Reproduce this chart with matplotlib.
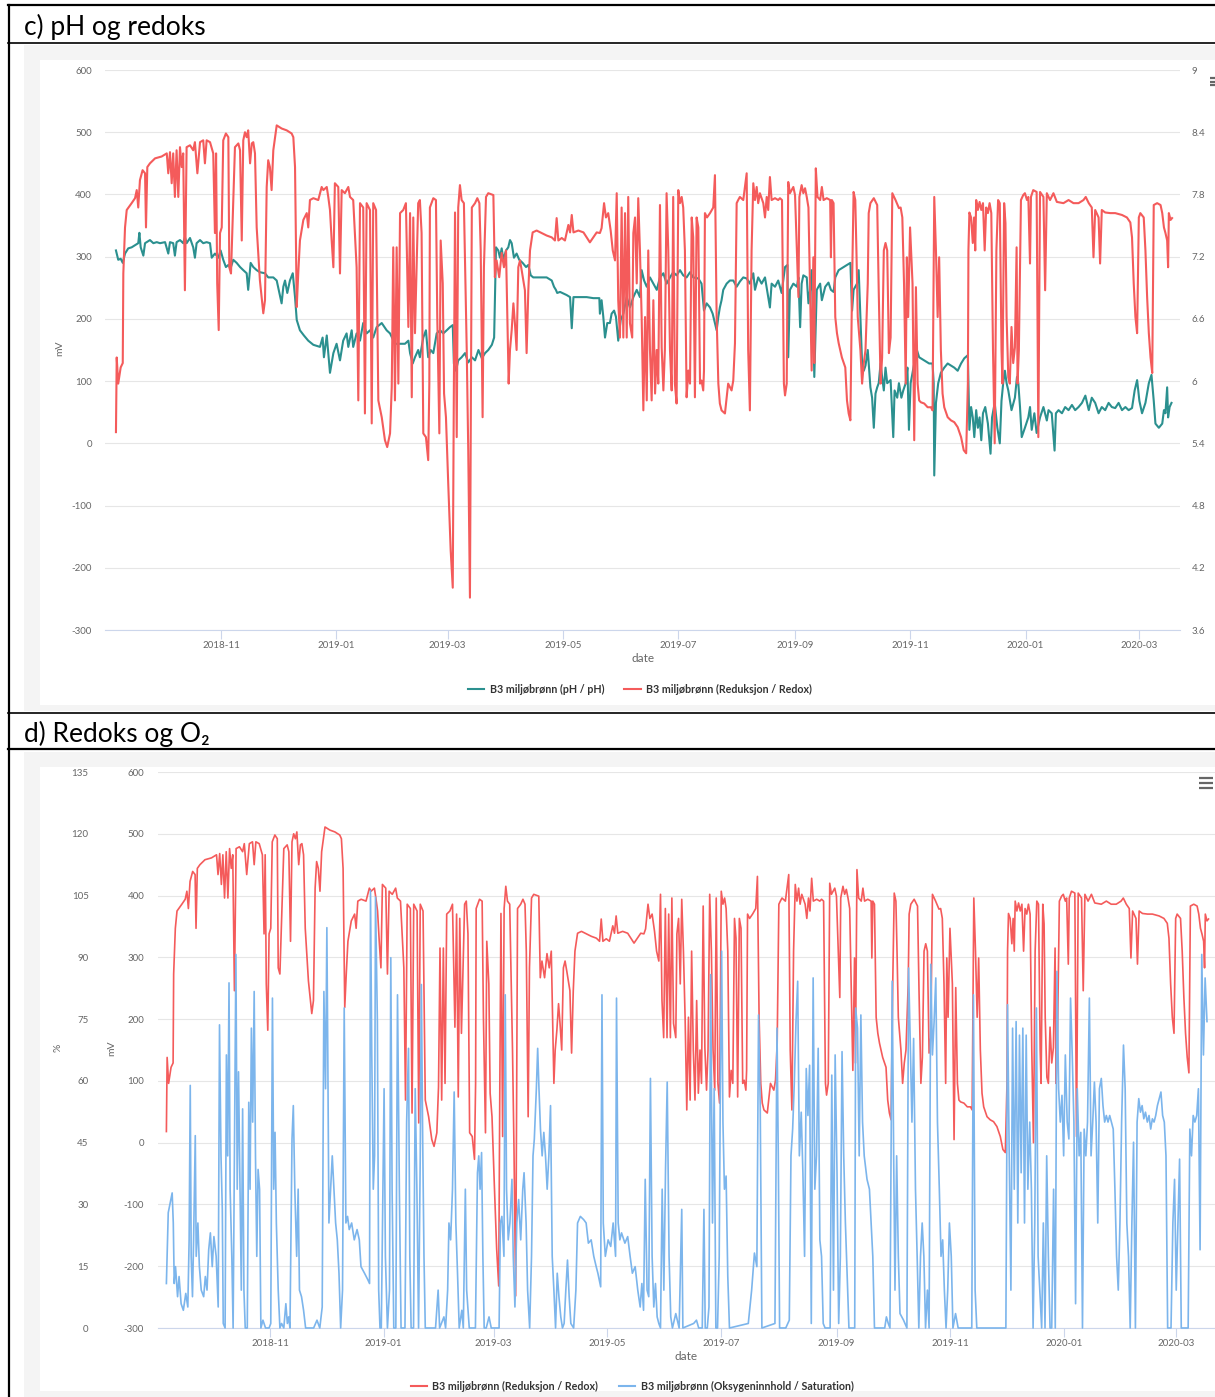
import numpy as np
import matplotlib.pyplot as plt
import matplotlib.dates as mdates
from matplotlib.lines import Line2D
from matplotlib.patches import Rectangle
from datetime import datetime

plt.rcParams['font.family'] = ['Lato', 'DejaVu Sans']
plt.rcParams['axes.unicode_minus'] = False

# ---- data (days counted from 2018-11-01) ----
redox_day = [
    -55.6, -55.2, -54.4, -53.1, -52.0, -51.7, -50.8, -49.9, -47.3, -45.5,
    -44.6, -43.8, -42.9, -41.5, -40.2, -39.7, -39.0, -37.6, -34.9, -31.4,
    -28.7, -27.9, -27.0, -26.1, -25.3, -24.4, -23.5, -22.6, -21.7, -20.8,
    -20.0, -19.1, -18.2, -16.4, -14.7, -13.8, -12.5, -11.1, -9.4, -8.5,
    -7.6, -5.8, -4.1, -3.2, -2.6, -2.0, -1.2, -0.5, 0.4, 1.2,
    2.6, 3.9, 4.4, 5.3, 6.5, 7.4, 9.2, 10.1, 11.0, 11.8,
    12.7, 13.6, 14.4, 15.4, 16.3, 17.1, 18.0, 18.9, 20.6, 22.4,
    23.3, 24.2, 25.0, 25.9, 26.8, 27.7, 29.5, 32.1, 34.8, 37.4,
    38.3, 39.2, 40.1, 40.9, 41.8, 43.6, 45.4, 46.2, 47.1, 48.9,
    51.5, 53.3, 54.2, 56.0, 56.8, 57.7, 58.6, 59.5, 60.3, 61.2,
    62.1, 63.0, 63.9, 65.6, 67.4, 68.3, 70.0, 71.8, 72.7, 73.6,
    75.3, 76.2, 77.1, 78.9, 79.8, 80.6, 82.1, 83.3, 85.1, 86.8,
    88.0, 89.5, 90.4, 91.2, 92.1, 93.0, 93.9, 94.8, 96.5, 97.9,
    99.2, 100.1, 101.0, 101.8, 102.7, 104.4, 105.3, 106.2, 107.1, 108.5,
    109.7, 110.3, 110.6, 112.4, 113.8, 114.5, 115.6, 116.3, 117.4, 118.1,
    119.1, 120.3, 121.6, 122.7, 123.3, 123.9, 124.8, 125.6, 126.5, 127.4,
    128.6, 130.1, 130.9, 131.8, 132.8, 134.5, 135.7, 136.8, 137.5, 138.5,
    139.2, 140.3, 141.5, 144.2, 145.0, 145.9, 147.3, 148.6, 149.8, 150.9,
    151.6, 152.3, 153.0, 153.9, 154.8, 155.6, 156.5, 157.4, 158.3, 159.2,
    160.9, 161.8, 162.7, 163.6, 165.0, 167.1, 169.8, 172.4, 175.1, 176.8,
    177.7, 178.6, 180.4, 182.1, 183.9, 184.8, 185.7, 186.6, 189.2, 191.9,
    193.6, 195.3, 197.1, 198.9, 200.6, 201.5, 202.8, 203.8, 205.0, 206.3,
    207.4, 208.6, 209.5, 210.3, 211.2, 212.1, 213.0, 213.9, 214.8, 215.6,
    216.5, 217.7, 218.3, 219.2, 220.1, 220.9, 221.8, 222.7, 223.6, 224.5,
    225.4, 226.2, 227.1, 228.0, 228.9, 229.8, 230.7, 231.5, 232.4, 233.3,
    234.2, 235.0, 235.9, 236.8, 237.7, 238.6, 239.4, 240.3, 241.2, 242.1,
    243.0, 243.9, 244.7, 245.6, 246.5, 247.4, 248.3, 249.2, 250.0, 250.9,
    251.8, 252.7, 253.6, 254.4, 255.3, 255.7, 256.2, 257.3, 258.9, 260.6,
    261.5, 262.4, 263.3, 264.1, 265.0, 266.8, 268.5, 270.3, 271.2, 272.1,
    273.0, 273.8, 274.7, 276.5, 278.3, 279.1, 280.0, 280.9, 281.8, 282.7,
    283.6, 284.4, 285.3, 287.1, 288.0, 288.9, 289.7, 290.6, 291.5, 293.3,
    295.0, 295.9, 297.0, 298.0, 298.6, 299.5, 300.3, 301.2, 303.0, 303.9,
    305.7, 306.2, 307.4, 308.3, 309.2, 310.1, 311.0, 312.7, 313.6, 314.1,
    314.9, 315.8, 317.2, 318.1, 319.0, 320.7, 322.5, 322.9, 323.4, 324.3,
    325.2, 326.1, 327.0, 328.7, 330.5, 331.4, 332.3, 333.2, 334.1, 334.9,
    335.8, 336.4, 337.1, 338.5, 339.4, 340.3, 341.2, 342.4, 342.9, 343.8,
    345.6, 347.4, 348.2, 349.2, 350.0, 350.9, 351.8, 352.7, 353.6, 354.5,
    355.4, 357.1, 358.9, 359.8, 360.7, 361.6, 362.5, 363.1, 363.8, 364.8,
    366.1, 367.0, 367.9, 368.8, 369.6, 370.5, 372.3, 374.1, 375.8, 376.7,
    377.6, 378.5, 379.4, 380.2, 381.1, 382.0, 382.9, 384.7, 386.4, 388.2,
    390.0, 391.8, 393.2, 394.5, 395.4, 395.7, 396.2, 397.1, 398.0, 398.7,
    399.3, 399.8, 400.7, 401.6, 402.5, 403.4, 404.3, 405.1, 406.0, 406.9,
    407.8, 408.7, 409.6, 410.5, 411.4, 412.3, 413.2, 413.7, 414.6, 415.3,
    415.9, 416.8, 417.6, 418.5, 419.4, 420.3, 421.2, 421.7, 422.4, 423.5,
    424.7, 425.6, 426.7, 427.4, 428.3, 428.8, 430.0, 431.8, 432.7, 433.6,
    435.4, 436.3, 437.2, 438.9, 440.7, 442.5, 446.0, 448.7, 451.3, 454.0,
    456.6, 457.8, 459.4, 461.0, 461.9, 462.8, 464.6, 465.4, 466.3, 468.1,
    470.8, 473.4, 477.0, 479.6, 481.4, 482.3, 483.2, 484.1, 485.0, 485.9,
    486.7, 488.5, 489.4, 490.3, 491.2, 492.1, 493.0, 493.8, 495.6, 497.4,
    498.3, 499.2, 500.0, 500.9, 501.4, 501.8, 502.7, 503.5,
]
redox_mv = [
    18, 138, 96, 122, 129, 273, 347, 375, 386, 394,
    407, 379, 423, 439, 434, 347, 444, 450, 458, 461,
    466, 434, 468, 418, 466, 396, 471, 396, 476, 444,
    466, 246, 476, 479, 471, 484, 434, 484, 487, 450,
    487, 484, 466, 338, 466, 257, 182, 338, 347, 487,
    498, 492, 283, 273, 391, 476, 482, 471, 326, 487,
    500, 492, 503, 450, 482, 484, 466, 347, 262, 209,
    230, 412, 455, 444, 407, 471, 511, 506, 503, 498,
    492, 444, 219, 273, 326, 359, 370, 347, 391, 394,
    391, 412, 407, 412, 396, 375, 326, 283, 418, 415,
    412, 273, 407, 402, 412, 396, 391, 283, 69, 386,
    379, 48, 386, 375, 32, 386, 375, 69, 42, 5,
    -6, 16, 90, 315, 69, 315, 96, 370, 375, 386,
    187, 370, 74, 363, 177, 386, 391, 338, 16, 10,
    -27, 96, 379, 394, 391, 203, 16, 326, 257, 80,
    42, -64, -172, -232, 96, 371, 10, 379, 415, 391,
    386, 150, -11, -248, 379, 386, 394, 386, 310, 42,
    283, 396, 402, 399, 267, 294, 267, 306, 283, 310,
    203, 96, 150, 182, 225, 193, 150, 283, 294, 278,
    246, 145, 246, 310, 339, 342, 338, 334, 331, 326,
    362, 326, 330, 326, 351, 339, 367, 339, 342, 339,
    331, 323, 331, 339, 338, 346, 386, 363, 370, 342,
    310, 294, 402, 230, 170, 379, 170, 370, 170, 396,
    193, 170, 338, 363, 257, 394, 310, 203, 53, 203,
    69, 310, 150, 69, 230, 80, 150, 96, 383, 154,
    85, 150, 402, 310, 150, 85, 396, 96, 64, 407,
    386, 396, 379, 310, 74, 117, 96, 363, 331, 74,
    363, 347, 96, 101, 85, 117, 370, 363, 370, 379,
    431, 203, 96, 64, 53, 48, 96, 85, 101, 161,
    386, 391, 396, 391, 434, 150, 53, 310, 418, 391,
    412, 386, 402, 386, 363, 396, 375, 428, 391, 394,
    391, 394, 391, 96, 77, 96, 420, 402, 412, 399,
    235, 396, 415, 402, 410, 396, 379, 117, 299, 129,
    442, 396, 391, 412, 391, 394, 391, 299, 391, 386,
    203, 177, 161, 138, 122, 69, 48, 37, 257, 404,
    391, 310, 203, 150, 96, 129, 150, 257, 370, 386,
    394, 383, 246, 96, 138, 310, 322, 310, 145, 170,
    402, 391, 378, 379, 363, 257, 96, 299, 203, 347,
    257, 5, 251, 96, 69, 66, 64, 58, 58, 53,
    396, 310, 203, 299, 150, 80, 58, 42, 37, 34,
    26, 10, -11, -16, 96, 310, 371, 363, 322, 363,
    310, 391, 375, 388, 375, 386, 310, 379, 370, 386,
    370, 150, 0, 310, 391, 386, 150, 96, 386, 354,
    203, 106, 96, 187, 129, 154, 315, 96, 150, 391,
    399, 402, 391, 396, 289, 396, 407, 404, 10, 404,
    396, 246, 402, 391, 402, 388, 386, 391, 386, 386,
    391, 396, 386, 379, 299, 375, 363, 289, 375, 371,
    370, 370, 367, 363, 355, 331, 257, 203, 177, 363,
    370, 363, 310, 235, 177, 138, 113, 383, 386, 383,
    370, 347, 338, 326, 283, 370, 359, 362,
]

ph_day = [
    -55.6, -54.4, -53.1, -52.0, -50.8, -49.1, -47.3, -45.5, -43.8, -43.2,
    -42.5, -41.1, -40.2, -37.6, -35.8, -34.0, -32.3, -29.6, -27.9, -27.0,
    -25.3, -24.4, -23.5, -21.7, -20.0, -19.1, -18.2, -16.4, -14.7, -13.8,
    -12.9, -11.1, -9.4, -7.6, -5.8, -4.9, -3.2, -1.4, -0.2, 1.2,
    2.6, 3.9, 5.1, 6.5, 8.3, 10.1, 11.8, 13.6, 14.4, 15.7,
    17.1, 18.9, 20.6, 23.3, 25.0, 27.7, 29.5, 30.9, 32.1, 33.0,
    33.9, 35.1, 36.5, 38.0, 39.2, 40.1, 41.8, 43.9, 46.2, 48.9,
    52.4, 53.8, 54.5, 56.0, 57.7, 59.5, 61.2, 63.0, 64.7, 66.5,
    67.4, 69.2, 70.0, 71.8, 73.6, 75.3, 77.1, 78.9, 80.6, 82.4,
    85.1, 87.7, 89.5, 92.1, 94.8, 97.4, 99.2, 100.1, 101.5, 102.7,
    104.4, 105.3, 107.1, 108.5, 109.7, 111.0, 112.4, 114.2, 116.0, 117.7,
    119.5, 121.2, 122.7, 123.3, 124.4, 125.6, 127.4, 129.2, 130.9, 132.8,
    134.5, 136.3, 138.1, 139.8, 141.5, 143.4, 144.6, 145.6, 146.8, 147.7,
    148.6, 149.5, 150.9, 152.1, 153.0, 153.9, 155.1, 156.5, 157.9, 159.7,
    161.5, 162.7, 164.0, 165.3, 168.9, 172.4, 175.1, 176.3, 177.3, 178.0,
    179.5, 183.0, 184.8, 185.7, 186.6, 190.1, 193.6, 197.1, 200.3, 200.6,
    201.5, 202.4, 203.3, 204.5, 205.9, 206.8, 208.1, 209.1, 210.3, 211.6,
    213.0, 214.8, 216.5, 218.3, 220.1, 221.8, 222.7, 224.0, 225.4, 227.1,
    228.9, 230.7, 232.4, 234.2, 235.9, 237.7, 239.4, 241.2, 243.0, 244.7,
    246.5, 248.3, 250.0, 252.7, 254.4, 255.7, 257.1, 258.9, 260.3, 261.5,
    262.4, 263.3, 264.1, 265.0, 265.9, 267.7, 269.4, 271.2, 273.0, 274.7,
    276.5, 278.3, 280.0, 281.8, 282.7, 284.4, 286.2, 288.0, 290.6, 291.5,
    293.3, 295.0, 296.8, 298.6, 299.9, 300.3, 301.2, 303.0, 304.9, 305.7,
    306.6, 307.4, 308.3, 310.1, 311.0, 311.9, 312.7, 313.6, 314.1, 314.7,
    315.4, 317.2, 318.1, 319.9, 321.6, 322.9, 324.3, 325.2, 327.0, 329.6,
    331.4, 333.2, 334.1, 334.9, 336.7, 337.6, 338.5, 339.4, 340.3, 341.2,
    342.4, 343.8, 344.7, 345.6, 346.5, 347.4, 348.2, 349.2, 350.0, 350.9,
    351.8, 352.7, 354.5, 355.9, 356.6, 358.0, 358.9, 360.2, 361.2, 362.5,
    363.4, 364.2, 365.1, 367.0, 367.9, 369.6, 372.3, 374.9, 376.7, 377.3,
    377.6, 378.5, 379.7, 381.1, 382.9, 384.7, 386.4, 388.2, 390.0, 391.8,
    393.5, 395.4, 396.2, 397.1, 398.0, 398.8, 399.8, 400.7, 401.6, 402.5,
    403.4, 404.6, 406.0, 407.4, 408.2, 409.6, 411.0, 412.3, 413.2, 414.1,
    415.0, 415.9, 416.8, 418.5, 420.3, 421.4, 422.1, 423.0, 423.9, 425.6,
    427.4, 428.3, 429.2, 430.6, 431.8, 433.6, 435.4, 437.2, 438.1, 439.8,
    441.3, 442.0, 443.4, 445.2, 446.9, 448.7, 450.5, 452.2, 454.0, 455.8,
    457.6, 459.4, 461.0, 462.8, 464.6, 466.3, 468.1, 469.9, 471.6, 473.4,
    475.2, 477.0, 478.8, 480.5, 482.3, 483.7, 485.0, 486.2, 487.6, 489.4,
    491.2, 492.6, 493.8, 494.7, 496.5, 498.3, 499.2, 500.0, 500.9, 501.4,
    502.2, 503.2,
]
ph_val = [
    7.26, 7.17, 7.18, 7.14, 7.23, 7.28, 7.29, 7.31, 7.33, 7.43,
    7.29, 7.21, 7.33, 7.36, 7.33, 7.34, 7.33, 7.34, 7.23, 7.34,
    7.33, 7.21, 7.34, 7.36, 7.33, 7.39, 7.33, 7.38, 7.29, 7.19,
    7.33, 7.36, 7.33, 7.34, 7.33, 7.19, 7.23, 7.19, 7.26, 7.17,
    7.10, 7.12, 7.09, 7.17, 7.14, 7.10, 7.07, 7.04, 6.88, 7.14,
    7.10, 7.07, 7.05, 7.04, 7.00, 7.00, 6.97, 6.85, 6.75, 6.91,
    6.97, 6.85, 6.97, 7.04, 6.81, 6.59, 6.49, 6.44, 6.39, 6.35,
    6.33, 6.42, 6.23, 6.44, 6.08, 6.27, 6.36, 6.20, 6.39, 6.46,
    6.33, 6.49, 6.33, 6.46, 6.39, 6.56, 6.46, 6.49, 6.42, 6.52,
    6.56, 6.49, 6.46, 6.36, 6.36, 6.36, 6.39, 6.27, 6.17, 6.23,
    6.30, 6.23, 6.42, 6.49, 6.23, 6.30, 6.27, 6.46, 6.49, 6.46,
    6.49, 6.52, 6.54, 6.17, 6.10, 6.20, 6.23, 6.27, 6.18, 6.23,
    6.20, 6.30, 6.22, 6.27, 6.30, 6.35, 6.42, 7.29, 7.26, 7.19,
    7.28, 7.17, 7.26, 7.29, 7.36, 7.33, 7.19, 7.23, 7.17, 7.14,
    7.10, 7.12, 7.02, 7.00, 7.00, 7.00, 6.97, 6.91, 6.88, 6.85,
    6.86, 6.83, 6.81, 6.51, 6.81, 6.81, 6.81, 6.80, 6.80, 6.65,
    6.78, 6.62, 6.42, 6.56, 6.56, 6.65, 6.68, 6.62, 6.39, 6.59,
    6.65, 6.81, 6.71, 6.81, 6.88, 6.81, 7.07, 6.97, 6.91, 7.00,
    6.94, 6.88, 7.00, 7.04, 6.94, 7.00, 7.05, 7.02, 7.07, 7.02,
    7.00, 7.05, 7.00, 6.99, 6.94, 6.68, 6.75, 6.71, 6.65, 6.56,
    6.49, 6.62, 6.71, 6.78, 6.88, 6.94, 6.97, 6.97, 6.91, 6.96,
    7.00, 6.99, 6.94, 7.04, 6.88, 7.00, 6.94, 7.00, 6.71, 6.94,
    6.91, 6.97, 6.85, 7.10, 7.12, 6.23, 6.88, 6.94, 6.91, 7.00,
    6.52, 6.94, 7.02, 7.00, 6.75, 6.88, 7.07, 6.52, 6.04, 6.42,
    6.88, 6.94, 6.78, 6.91, 6.95, 6.88, 6.86, 7.00, 7.07, 7.10,
    7.12, 7.14, 6.68, 6.88, 6.94, 7.07, 6.62, 6.17, 6.10, 6.15,
    6.30, 5.94, 5.84, 5.55, 5.88, 5.94, 5.98, 6.17, 6.04, 5.91,
    6.13, 5.98, 6.01, 5.46, 5.91, 5.84, 5.98, 5.84, 5.91, 5.98,
    6.13, 5.53, 5.98, 6.17, 6.33, 6.23, 6.20, 6.17, 6.17, 5.98,
    5.09, 5.79, 5.98, 6.08, 6.13, 6.17, 6.15, 6.13, 6.10, 6.17,
    6.22, 6.25, 5.53, 5.75, 5.65, 5.46, 5.72, 5.55, 5.65, 5.43,
    5.69, 5.75, 5.59, 5.30, 5.65, 5.79, 5.55, 5.40, 5.81, 5.98,
    6.10, 5.98, 5.91, 5.72, 5.84, 6.04, 5.98, 5.75, 5.46, 5.55,
    5.65, 5.75, 5.53, 5.69, 5.50, 5.65, 5.75, 5.62, 5.72, 5.69,
    5.33, 5.69, 5.72, 5.69, 5.75, 5.72, 5.77, 5.72, 5.75, 5.79,
    5.86, 5.72, 5.84, 5.79, 5.69, 5.75, 5.72, 5.79, 5.75, 5.74,
    5.79, 5.72, 5.75, 5.72, 5.74, 5.91, 6.01, 5.81, 5.69, 5.79,
    5.98, 6.06, 5.81, 5.59, 5.55, 5.59, 5.72, 5.69, 5.94, 5.65,
    5.75, 5.79,
]

o2_day = [
    -55.6, -54.6, -53.2, -52.5, -51.9, -51.4, -50.7, -49.6, -48.8, -47.7,
    -46.5, -45.2, -44.1, -43.4, -42.8, -42.3, -41.6, -41.0, -40.1, -39.6,
    -38.7, -37.9, -36.9, -35.6, -34.7, -33.8, -32.9, -32.0, -31.0, -30.1,
    -28.9, -27.8, -27.1, -26.3, -25.6, -25.1, -24.1, -23.4, -22.7, -22.0,
    -21.4, -20.5, -19.8, -19.1, -18.3, -17.6, -16.9, -16.2, -15.4, -14.7,
    -14.0, -13.3, -12.2, -11.4, -10.7, -10.0, -9.3, -8.5, -7.8, -7.1,
    -6.4, -5.6, -4.9, -3.8, -2.4, -0.5, 0.4, 1.3, 2.0, 2.7,
    3.4, 4.4, 5.3, 6.2, 7.4, 8.5, 9.3, 10.0, 10.7, 11.8,
    12.5, 13.3, 14.3, 15.1, 15.8, 16.9, 18.0, 19.1, 23.4, 25.2,
    26.7, 28.0, 28.9, 29.8, 30.5, 31.0, 31.6, 32.5, 33.4, 34.3,
    35.2, 36.1, 37.0, 37.9, 38.9, 39.8, 40.7, 41.6, 42.5, 43.8,
    45.2, 46.7, 47.9, 48.8, 50.7, 52.5, 53.4, 53.9, 54.6, 55.4,
    56.1, 56.6, 57.6, 58.3, 59.0, 59.7, 61.2, 61.9, 63.0, 64.1,
    64.8, 65.5, 66.4, 67.5, 68.4, 69.4, 70.3, 72.4, 73.3, 74.3,
    75.0, 75.7, 77.0, 77.9, 78.8, 79.7, 80.6, 81.2, 81.9, 82.6,
    83.3, 88.8, 90.2, 91.0, 93.3, 94.2, 95.3, 96.0, 96.9, 97.9,
    98.8, 99.7, 100.6, 101.5, 102.9, 103.7, 104.8, 105.5, 106.9, 110.2,
    111.3, 112.0, 112.7, 113.5, 114.2, 114.9, 116.0, 117.5, 118.7, 122.9,
    123.6, 124.4, 125.5, 126.2, 126.9, 127.8, 128.7, 129.8, 130.5, 131.4,
    132.4, 133.4, 134.5, 135.6, 136.3, 137.4, 138.2, 139.3, 140.3, 141.1,
    141.8, 142.9, 143.6, 144.3, 145.1, 146.0, 146.9, 147.8, 148.7, 149.6,
    150.5, 151.4, 152.3, 153.2, 154.1, 155.0, 156.0, 156.9, 157.8, 158.7,
    159.6, 160.5, 161.4, 162.9, 164.1, 165.0, 166.5, 168.3, 169.6, 170.8,
    172.3, 173.7, 175.0, 175.9, 177.4, 178.1, 178.8, 179.9, 181.4, 182.8,
    184.1, 185.4, 185.9, 186.8, 187.7, 188.6, 190.4, 191.9, 193.2, 194.4,
    195.9, 197.3, 198.6, 199.5, 200.4, 201.3, 202.3, 203.2, 204.1, 205.0,
    205.9, 206.8, 207.7, 208.6, 209.5, 210.4, 211.3, 212.2, 213.1, 214.1,
    215.0, 215.9, 217.7, 219.5, 220.9, 221.5, 227.3, 228.8, 230.0, 231.9,
    232.8, 233.5, 234.6, 235.5, 236.4, 237.4, 238.3, 239.2, 240.1, 241.0,
    241.6, 242.3, 243.0, 243.8, 244.7, 245.6, 246.5, 256.6, 258.4, 259.9,
    261.2, 262.1, 263.0, 263.9, 270.9, 272.0, 272.7, 273.4, 276.7, 278.6,
    279.5, 280.4, 281.3, 282.2, 283.1, 284.0, 285.0, 285.9, 286.8, 287.7,
    288.6, 289.5, 290.4, 291.4, 292.3, 293.2, 294.1, 295.0, 295.9, 296.8,
    297.8, 300.5, 301.4, 302.3, 303.2, 304.2, 305.1, 306.0, 306.9, 307.8,
    308.7, 309.6, 310.6, 313.7, 314.2, 315.2, 316.1, 317.0, 317.9, 318.8,
    320.3, 321.6, 322.5, 323.4, 324.3, 329.8, 330.7, 331.7, 332.6, 333.8,
    334.6, 335.3, 336.2, 337.1, 338.0, 339.9, 341.7, 342.6, 343.5, 344.4,
    345.3, 346.3, 347.2, 348.1, 349.0, 349.9, 350.8, 351.7, 352.7, 353.6,
    354.5, 355.4, 356.3, 357.2, 358.1, 359.1, 360.0, 360.9, 361.8, 362.7,
    363.6, 364.5, 365.5, 366.4, 367.8, 369.2, 376.5, 377.4, 378.3, 379.2,
    394.8, 395.7, 396.6, 397.5, 398.4, 399.3, 400.3, 401.2, 402.1, 403.0,
    403.9, 404.8, 405.7, 406.6, 407.6, 408.5, 409.4, 410.3, 411.2, 412.1,
    413.0, 414.0, 414.9, 415.8, 416.7, 417.6, 418.5, 419.4, 420.4, 421.3,
    422.2, 423.1, 424.0, 424.9, 425.8, 426.7, 427.7, 428.6, 429.5, 430.4,
    431.3, 432.2, 433.1, 434.1, 435.0, 435.9, 436.8, 437.7, 438.6, 439.6,
    440.5, 441.4, 442.3, 443.2, 444.1, 445.0, 446.0, 446.9, 447.8, 448.7,
    449.6, 450.5, 451.4, 452.4, 453.3, 454.2, 455.1, 456.0, 456.9, 457.9,
    458.8, 459.7, 460.6, 461.5, 462.4, 463.3, 464.3, 465.2, 466.1, 467.0,
    467.9, 468.8, 469.7, 470.7, 471.6, 472.5, 473.4, 474.3, 475.2, 476.1,
    477.1, 478.0, 478.9, 479.8, 480.7, 481.6, 483.4, 484.4, 485.3, 486.2,
    487.1, 488.0, 488.9, 492.6, 493.5, 494.4, 495.3, 496.2, 497.2, 498.1,
    499.0, 499.9, 500.8, 501.7, 502.7,
]
o2_pct = [
    10.8, 28.0, 31.2, 32.8, 25.5, 10.8, 14.9, 7.6, 12.5, 5.9,
    4.3, 8.4, 5.1, 21.4, 58.9, 17.4, 7.6, 21.4, 46.7, 17.4,
    25.5, 14.9, 9.2, 7.6, 12.5, 9.2, 19.0, 23.1, 14.9, 22.2,
    17.4, 5.1, 73.6, 41.8, 28.8, 1.1, 0, 66.3, 41.8, 83.8,
    33.7, 17.4, 0, 41.8, 90.7, 33.7, 62.2, 37.7, 9.2, 53.2,
    9.2, 0, 0, 54.8, 33.7, 72.8, 50.0, 81.7, 41.8, 17.4,
    38.5, 33.7, 0, 1.9, 0, 0, 1.1, 80.1, 33.7, 47.5,
    25.5, 9.2, 0, 1.1, 0, 5.9, 1.1, 2.7, 0, 45.9,
    54.0, 33.7, 17.4, 33.7, 9.2, 7.6, 4.3, 0, 0, 1.9,
    0, 5.1, 81.7, 58.1, 97.2, 66.3, 25.5, 33.7, 41.8, 33.7,
    25.5, 21.4, 13.3, 0, 9.2, 77.7, 25.5, 27.1, 23.9, 25.5,
    21.4, 23.9, 21.4, 14.9, 13.3, 11.7, 10.8, 106.2, 66.3, 33.7,
    41.8, 104.6, 74.4, 9.2, 0, 0, 58.1, 17.4, 0, 9.2,
    89.9, 33.7, 0, 0, 80.9, 33.7, 0, 0, 50.0, 67.9,
    17.4, 0, 0, 58.1, 33.7, 0, 41.8, 83.4, 45.9, 17.4,
    0, 0, 9.2, 0, 2.7, 0, 9.2, 25.5, 21.4, 33.7,
    57.3, 25.5, 13.3, 0, 4.3, 0, 33.7, 9.2, 0, 0,
    37.7, 41.8, 33.7, 42.6, 17.4, 0, 0, 2.7, 0, 0,
    25.5, 27.1, 17.4, 80.9, 33.7, 21.4, 25.5, 36.1, 17.4, 5.1,
    25.5, 31.2, 21.4, 33.7, 37.7, 25.5, 9.2, 0, 17.4, 41.8,
    45.9, 58.1, 67.9, 58.1, 48.3, 41.8, 47.5, 41.8, 33.7, 41.8,
    54.0, 17.4, 9.2, 0, 13.3, 7.6, 2.7, 0, 1.1, 9.2,
    16.5, 7.6, 1.1, 0, 9.2, 25.5, 27.1, 26.3, 25.5, 20.6,
    21.4, 17.4, 14.9, 13.3, 10.0, 80.9, 25.5, 17.4, 21.4, 19.8,
    25.5, 17.4, 80.1, 25.5, 21.4, 23.1, 20.6, 22.2, 17.4, 13.3,
    14.9, 9.2, 5.1, 10.8, 4.3, 36.1, 9.2, 7.6, 60.6, 17.4,
    5.1, 10.8, 2.7, 1.1, 0, 33.7, 9.2, 38.5, 59.7, 17.4,
    2.7, 0, 3.5, 0, 28.8, 0, 1.1, 1.9, 0, 0,
    28.8, 0, 0, 5.1, 85.8, 25.5, 58.1, 0, 0, 17.4,
    58.1, 91.5, 50.0, 33.7, 36.9, 12.5, 0, 1.1, 9.2, 18.2,
    14.9, 76.0, 54.0, 0, 1.1, 72.8, 41.8, 0, 0, 1.9,
    41.8, 48.3, 59.7, 74.4, 84.2, 41.8, 52.4, 37.7, 17.4, 63.0,
    51.6, 63.8, 1.1, 85.0, 33.7, 41.8, 67.9, 21.4, 17.4, 1.1,
    0, 0, 61.4, 9.2, 66.3, 37.7, 1.1, 17.4, 67.1, 41.8,
    25.5, 13.3, 0, 0, 77.7, 72.8, 41.8, 76.0, 50.0, 41.8,
    36.1, 33.7, 25.5, 17.4, 0, 0, 2.7, 1.1, 0, 84.2,
    41.8, 9.2, 41.8, 17.4, 3.5, 1.9, 0, 87.4, 69.5, 50.0,
    70.3, 33.7, 17.4, 0, 17.4, 25.5, 17.4, 0, 9.2, 0,
    88.3, 66.3, 74.4, 85.0, 50.0, 33.7, 17.4, 21.4, 9.2, 0,
    9.2, 25.5, 17.4, 0, 3.5, 0, 0, 80.9, 9.2, 0,
    0, 78.5, 41.8, 9.2, 72.8, 33.7, 74.4, 25.5, 71.1, 37.7,
    72.8, 25.5, 71.1, 33.7, 50.0, 33.7, 0, 25.5, 77.7, 17.4,
    9.2, 0, 25.5, 0, 41.8, 17.4, 0, 0, 33.7, 0,
    86.6, 58.1, 50.0, 56.5, 41.8, 66.3, 50.0, 45.9, 80.1, 66.3,
    50.0, 5.9, 58.1, 41.8, 47.5, 0, 48.3, 41.8, 50.0, 80.1,
    41.8, 50.0, 59.7, 50.0, 25.5, 58.1, 60.6, 54.0, 50.0, 51.6,
    50.0, 51.6, 50.0, 48.3, 33.7, 17.4, 9.2, 25.5, 50.0, 68.7,
    58.1, 25.5, 17.4, 0, 25.5, 45.1, 0, 50.0, 55.7, 52.4,
    54.0, 50.8, 52.4, 50.0, 51.6, 48.3, 50.8, 50.0, 51.6, 54.0,
    55.7, 57.3, 51.6, 50.0, 41.8, 0, 0, 25.5, 36.1, 9.2,
    25.5, 41.0, 0, 0, 48.3, 41.8, 51.6, 50.0, 51.6, 58.1,
    19.0, 90.7, 66.3, 85.0, 74.4,
]

assert len(redox_day) == len(redox_mv)
assert len(ph_day) == len(ph_val)
assert len(o2_day) == len(o2_pct)

month_ticks = ['2018-11', '2019-01', '2019-03', '2019-05', '2019-07',
               '2019-09', '2019-11', '2020-01', '2020-03']
mv_ticks = [-300, -200, -100, 0, 100, 200, 300, 400, 500, 600]
ph_ticks = [3.6, 4.2, 4.8, 5.4, 6.0, 6.6, 7.2, 7.8, 8.4, 9.0]
ph_labels = ['3.6', '4.2', '4.8', '5.4', '6', '6.6', '7.2', '7.8', '8.4', '9']
pct_ticks = [0, 15, 30, 45, 60, 75, 90, 105, 120, 135]

label_ph = 'B3 miljøbrønn (pH / pH)'
label_redox = 'B3 miljøbrønn (Reduksjon / Redox)'
label_o2 = 'B3 miljøbrønn (Oksygeninnhold / Saturation)'

RED = '#f45b5b'
TEAL = '#2b908f'
BLUE = '#7cb5ec'
GREY_TXT = '#666666'
GRID = '#e6e6e6'
AXIS = '#ccd6eb'

# ---- figure and helpers (pixel layout) ----
W, H = 1215, 1397
fig = plt.figure(figsize=(W / 100, H / 100), dpi=100)


def fx(x):
    return x / W


def fy(y):
    return 1 - y / H


def px_axes(x0, y0, x1, y1):
    return fig.add_axes([fx(x0), fy(y1), (x1 - x0) / W, (y1 - y0) / H])


def hline(x0, x1, y, lw):
    fig.add_artist(Line2D([fx(x0), fx(x1)], [fy(y), fy(y)], color='black', lw=lw))


base = mdates.date2num(datetime(2018, 11, 1))
tick_pos = [mdates.date2num(datetime.strptime(t, '%Y-%m')) for t in month_ticks]

# chart card backgrounds
for top, bottom in [(45, 711), (752, 1397)]:
    fig.add_artist(Rectangle((fx(24), fy(bottom)), fx(1215) - fx(24), (bottom - top) / H,
                             transform=fig.transFigure, color='#f4f4f4', lw=0, zorder=0))
    fig.add_artist(Rectangle((fx(40), fy(bottom - 6)), fx(1215) - fx(40), (bottom - 6 - top - 15) / H,
                             transform=fig.transFigure, color='white', lw=0, zorder=0))

# table borders and headers
hline(8, 1215, 5, 1.6)
hline(8, 1215, 43, 1.2)
hline(8, 1215, 713, 1.2)
hline(8, 1215, 749, 1.6)
fig.add_artist(Line2D([fx(9), fx(9)], [fy(5), fy(1397)], color='black', lw=1.6))
fig.text(fx(24), fy(35), 'c) pH og redoks', fontsize=19, va='baseline', ha='left')
fig.text(fx(24), fy(742), 'd) Redoks og O₂', fontsize=19, va='baseline', ha='left',
         family=['Lato', 'DejaVu Sans'])


def style_x(ax, xlim):
    ax.set_xlim(base + xlim[0], base + xlim[1])
    ax.set_xticks(tick_pos)
    ax.set_xticklabels(month_ticks)
    ax.tick_params(axis='x', length=6.5, width=0.8, color=AXIS, pad=1.5,
                   labelsize=7, labelcolor=GREY_TXT)
    for s in ['top', 'left', 'right']:
        ax.spines[s].set_visible(False)
    ax.spines['bottom'].set_color(AXIS)
    ax.spines['bottom'].set_linewidth(0.8)


def hamburger(x0, x1, ys):
    for y in ys:
        fig.add_artist(Line2D([fx(x0), fx(x1)], [fy(y), fy(y)], color=GREY_TXT, lw=1.6,
                              solid_capstyle='butt'))


# ---- panel c: pH and redox ----
ax_ph = px_axes(105, 70, 1180, 630)
ax_ph.plot(base + np.array(ph_day), ph_val, color=TEAL, lw=1.5)
ax_ph.set_ylim(3.6, 9.0)
ax_ph.set_yticks(ph_ticks)
ax_ph.set_yticklabels(ph_labels)
ax_ph.grid(axis='y', color=GRID, lw=0.8)
ax_ph.set_axisbelow(True)
style_x(ax_ph, (-61.4, 507.7))

ax_mv = ax_ph.twinx()
ax_mv.plot(base + np.array(redox_day), redox_mv, color=RED, lw=1.5)
ax_mv.set_ylim(-300, 600)
ax_mv.set_yticks(mv_ticks)
ax_mv.yaxis.tick_left()
ax_mv.tick_params(axis='y', length=0, pad=9.5, labelsize=7, labelcolor=GREY_TXT)
for s in ax_mv.spines.values():
    s.set_visible(False)
# twinx moved the pH ticks to the left; put them back on the right
ax_ph.yaxis.tick_right()
ax_ph.tick_params(axis='y', length=0, pad=8.5, labelsize=7, labelcolor=GREY_TXT)

fig.text(fx(60), fy(348), 'mV', rotation=90, fontsize=7.5, color=GREY_TXT, ha='center', va='center')
fig.text(fx(643), fy(659), 'date', fontsize=8.5, color=GREY_TXT, ha='center', va='center')
h_c = [Line2D([], [], color=TEAL, lw=1.5), Line2D([], [], color=RED, lw=1.5)]
fig.legend(h_c, [label_ph, label_redox], loc='center', bbox_to_anchor=(fx(640), fy(689)),
           ncol=2, frameon=False, handlelength=1.55, handletextpad=0.5, columnspacing=1.9,
           prop={'weight': 'bold', 'size': 7.7}, labelcolor='#333333')
hamburger(1210, 1215, [78, 81.5, 85])

# ---- panel d: redox and O2 ----
ax_r = px_axes(158, 772, 1215, 1328)
ax_r.plot(base + np.array(redox_day), redox_mv, color=RED, lw=1.2)
ax_r.set_ylim(-300, 600)
ax_r.set_yticks(mv_ticks)
ax_r.grid(axis='y', color=GRID, lw=0.8)
ax_r.set_axisbelow(True)
style_x(ax_r, (-60.1, 507.0))

ax_o = ax_r.twinx()
ax_o.plot(base + np.array(o2_day), o2_pct, color=BLUE, lw=1.2, clip_on=False)
ax_o.set_ylim(0, 135)
ax_o.set_yticks(pct_ticks)
for s in ax_o.spines.values():
    s.set_visible(False)
ax_o.yaxis.tick_left()
ax_o.tick_params(axis='y', length=0, pad=50, labelsize=7, labelcolor=GREY_TXT)
ax_r.yaxis.tick_left()
ax_r.tick_params(axis='y', length=0, pad=10, labelsize=7, labelcolor=GREY_TXT)

fig.text(fx(58), fy(1048), '%', rotation=90, fontsize=7.5, color=GREY_TXT, ha='center', va='center')
fig.text(fx(112), fy(1048), 'mV', rotation=90, fontsize=7.5, color=GREY_TXT, ha='center', va='center')
fig.text(fx(686), fy(1356), 'date', fontsize=8.5, color=GREY_TXT, ha='center', va='center')
h_d = [Line2D([], [], color=RED, lw=1.5), Line2D([], [], color=BLUE, lw=1.5)]
fig.legend(h_d, [label_redox, label_o2], loc='center', bbox_to_anchor=(fx(632), fy(1386)),
           ncol=2, frameon=False, handlelength=1.55, handletextpad=0.5, columnspacing=1.9,
           prop={'weight': 'bold', 'size': 7.7}, labelcolor='#333333')
hamburger(1199, 1213, [778, 783, 788])

fig.savefig('out.png', dpi=100)
